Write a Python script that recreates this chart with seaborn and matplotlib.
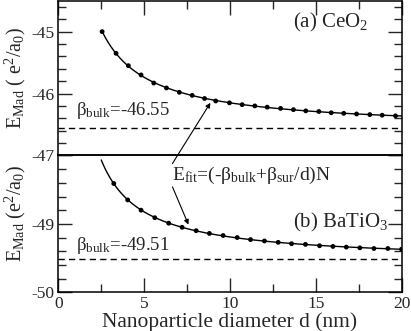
import numpy as np
import pandas as pd
import matplotlib
matplotlib.use("Agg")
import matplotlib.pyplot as plt
from matplotlib.ticker import MultipleLocator
import seaborn as sns

# Données
d_ceo2 = [2.55, 3.36, 4.08, 4.82, 5.56, 6.30, 7.05, 7.80, 8.52, 9.17, 9.97, 10.71,
          11.45, 12.17, 12.95, 13.70, 14.42, 15.18, 15.90, 16.63, 17.38, 18.15, 18.87, 19.65]
e_ceo2 = [-45.00, -45.35, -45.55, -45.70, -45.83, -45.91, -45.98, -46.03, -46.08, -46.12, -46.15, -46.18,
          -46.20, -46.22, -46.24, -46.26, -46.28, -46.29, -46.31, -46.32, -46.33, -46.34, -46.35, -46.36]
d_bto = [3.23, 4.04, 4.82, 5.62, 6.43, 7.21, 8.03, 8.80, 9.60, 10.42, 11.20,
         12.01, 12.81, 13.59, 14.40, 15.22, 16.00, 16.78, 17.57, 18.39, 19.20, 20.00]
e_bto = [-48.41, -48.65, -48.80, -48.91, -48.99, -49.05, -49.10, -49.14, -49.17, -49.20, -49.23,
         -49.25, -49.27, -49.29, -49.30, -49.32, -49.33, -49.34, -49.35, -49.36, -49.36, -49.37]
beta_ceo2 = -46.55
beta_bto = -49.51

sns.set_style("white")
plt.rcParams['font.family'] = ['Liberation Serif', 'DejaVu Serif']
plt.rcParams['mathtext.fontset'] = 'custom'
plt.rcParams['mathtext.rm'] = 'Liberation Serif'
plt.rcParams['mathtext.it'] = 'Liberation Serif:italic'

fig = plt.figure(figsize=(4.11, 3.31), dpi=100)
gs = fig.add_gridspec(2, 1, height_ratios=[155, 137], hspace=0,
                      left=0.142, right=0.977, top=0.998, bottom=0.117)
ax1 = fig.add_subplot(gs[0])
ax2 = fig.add_subplot(gs[1])
ax2.patch.set_alpha(0)


def trace(ax, d, e, x0):
    df = pd.DataFrame({'d': d, 'E': e})
    # ajustement en 1/d pour la courbe E_fit
    c = np.polyfit(1 / df['d'], df['E'], 2)
    grille = np.linspace(x0, 20, 300)
    fit = pd.DataFrame({'d': grille, 'E': np.polyval(c, 1 / grille)})
    sns.lineplot(data=fit, x='d', y='E', ax=ax, color='black', lw=1.0, sort=False)
    sns.scatterplot(data=df, x='d', y='E', ax=ax, color='black', s=12, edgecolor='none', zorder=3)


trace(ax1, d_ceo2, e_ceo2, 2.55)
trace(ax2, d_bto, e_bto, 2.5)

ax1.axhline(beta_ceo2, color='black', lw=1.0, ls=(0, (4.5, 3)))
ax2.axhline(beta_bto, color='black', lw=1.0, ls=(0, (4.5, 3)))

ax1.set_xlim(0, 20)
ax2.set_xlim(0, 20)
ax1.set_ylim(-47, -44.5)
ax2.set_ylim(-50, -48)

for ax in (ax1, ax2):
    for s in ax.spines.values():
        s.set_linewidth(1.1)
        s.set_color('black')
    ax.xaxis.set_major_locator(MultipleLocator(5))
    ax.xaxis.set_minor_locator(MultipleLocator(2.5))
    ax.yaxis.set_major_locator(MultipleLocator(1))
    ax.yaxis.set_minor_locator(MultipleLocator(0.2))
    ax.tick_params(which='both', direction='in', left=True, right=True, labelsize=12.5, pad=3, width=1.0)
    ax.tick_params(which='major', length=10)
    ax.tick_params(which='minor', length=6)

ax1.tick_params(which='both', top=True, bottom=False, labelbottom=False)
ax2.tick_params(which='both', top=False, bottom=True)
ax1.set_yticks([-47, -46, -45])
ax2.set_yticks([-50, -49, -48])
ax2.set_yticklabels(['-50', '-49', ''])
ax1.set_yticklabels(['-47', '-46', '-45'])
ax2.set_xticks([0, 5, 10, 15, 20])
ax2.set_xticklabels(['0', '5', '10', '15', '20'])

ax1.set_xlabel('')
ax1.set_ylabel(r'E$_{\rm Mad}$ ( e$^2$/a$_0$)', fontsize=14.5)
ax2.set_ylabel(r'E$_{\rm Mad}$ (e$^2$/a$_0$)', fontsize=14.5)
ax1.yaxis.set_label_coords(-0.088, 0.5)
ax2.yaxis.set_label_coords(-0.088, 0.58)
ax2.set_xlabel('Nanoparticle diameter d (nm)', fontsize=15.5, labelpad=0)

ax1.text(1.0, -46.35, 'β$_{\\rm bulk}$=-46.55', fontsize=13.5, va='baseline')
ax2.text(1.0, -49.38, 'β$_{\\rm bulk}$=-49.51', fontsize=13.5, va='baseline')
ax1.text(13.65, -44.935, r'(a) CeO$_2$', fontsize=15, va='baseline')
ax2.text(13.7, -49.06, r'(b) BaTiO$_3$', fontsize=15, va='baseline')
ax2.text(6.65, -48.36, 'E$_{\\rm fit}$=(-β$_{\\rm bulk}$+β$_{\\rm sur}$/d)N', fontsize=14, va='baseline')

fleche = dict(arrowstyle='-|>', color='black', lw=0.8, mutation_scale=7, shrinkA=0, shrinkB=0)
ax1.annotate('', xy=(8.86, -46.15), xytext=(6.65, -47.13), arrowprops=fleche, annotation_clip=False)
ax2.annotate('', xy=(7.58, -49.01), xytext=(6.65, -48.46), arrowprops=fleche, annotation_clip=False)

fig.savefig('out.png', dpi=100)
